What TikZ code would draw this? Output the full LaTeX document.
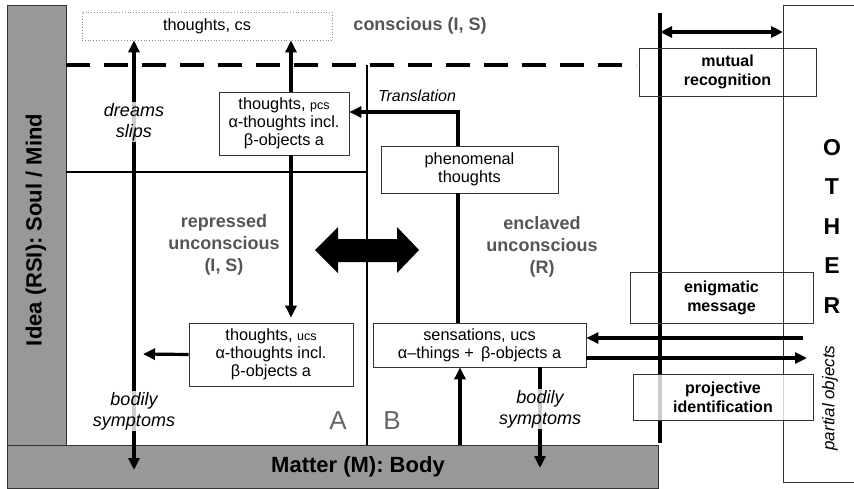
\documentclass[tikz,border=0pt]{standalone}
\usepackage{fontspec}
\setmainfont{Liberation Sans}
\usetikzlibrary{arrows.meta}
\definecolor{bargray}{RGB}{152,152,152}
\definecolor{labgray}{RGB}{85,85,85}
\tikzset{
  box/.style={draw=black!80, line width=0.8pt, fill=white, align=center, inner sep=0pt,
    font=\fontsize{16.3}{17.8}\selectfont},
  obox/.style={draw=black!80, line width=0.8pt, align=center, inner sep=0pt,
    font=\fontsize{16}{19}\selectfont\bfseries},
  arr/.style={line width=3.2pt, -{Triangle[length=12pt,width=11pt]}},
  darr/.style={line width=3.2pt, {Triangle[length=12pt,width=11pt]}-{Triangle[length=12pt,width=11pt]}},
  plain/.style={line width=3.2pt},
  thin/.style={line width=2.4pt},
  itlab/.style={font=\fontsize{18}{21}\selectfont\itshape, align=center, inner sep=1pt,
    fill=white, fill opacity=0.8, text opacity=1},
  glab/.style={font=\fontsize{18}{22}\selectfont\bfseries, text=labgray, align=center},
  bar/.style={draw=black!80, line width=0.8pt, fill=bargray, inner sep=0pt},
}
\begin{document}
\begin{tikzpicture}[x=1pt,y=-1pt]
\useasboundingbox (0,0) rectangle (854,488);
% OTHER frame
\draw[line width=0.8pt, black!80] (860,5) -- (783,5) -- (783,482) -- (860,482);
% bars
\node[bar, minimum width=59pt, minimum height=440pt] (mind) at (36.5,225) {};
\node[rotate=90, font=\fontsize{22}{24}\selectfont\bfseries] (mindlab) at (36,230) {Idea (RSI): Soul / Mind};
\node[bar, minimum width=651pt, minimum height=43pt, anchor=north west] (body) at (7,445) {};
\node[font=\fontsize{22}{24}\selectfont\bfseries] (bodylab) at (358,467) {Matter (M): Body};
% helper coordinates
\coordinate (xd) at (134,0);
\coordinate (xp) at (291,0);
\coordinate (xt) at (458,0);
\coordinate (xs) at (460,0);
\coordinate (xb) at (540,0);
\coordinate (ytr) at (0,112);
\coordinate (yin) at (0,338);
\coordinate (yout) at (0,358);
\coordinate (dashL) at (66,65);
\coordinate (dashR) at (636,65);
\coordinate (divT) at (367,65);
\coordinate (hL) at (66,172);
\coordinate (hR) at (367,172);
\coordinate (vT) at (660,13);
\coordinate (vB) at (660,443);
\coordinate (dbot) at (134,470);
\coordinate (lefttip) at (143,354);
\coordinate (bsymbot) at (540,468);
\coordinate (othin) at (803,338);
\coordinate (othout) at (807,358);
\coordinate (mrL) at (660,32);
\coordinate (mrR) at (783,32);
% structural lines
\draw[line width=4.8pt, dash pattern=on 24pt off 14pt] (dashL) -- (dashR);
\draw[thin] (divT) -- (divT |- body.north);
\draw[thin] (hL) -- (hR);
\draw[line width=3.5pt] (vT) -- (vB);
% big double arrow
\fill (315,250) -- (338,227) -- (338,239) -- (397,239) -- (397,227) -- (419,250)
  -- (397,273) -- (397,262) -- (338,262) -- (338,273) -- cycle;
% boxes
\node[box, draw=black!45, dotted, minimum width=250pt, minimum height=28pt] (tcs) at (207,26) {thoughts, cs};
\node[box, minimum width=130pt, minimum height=63pt] (tpcs) at (284,123.5)
  {thoughts, {\fontsize{12.5}{14}\selectfont pcs}\\ α-thoughts incl.\\ β-objects a};
\node[box, minimum width=164pt, minimum height=63pt] (tucs) at (271,354.5)
  {thoughts, {\fontsize{12.5}{14}\selectfont ucs}\\ α-thoughts incl.\\ β-objects a};
\node[box, minimum width=177pt, minimum height=47pt] (phen) at (469.5,169.5) {phenomenal\\ thoughts};
\node[box, minimum width=213pt, minimum height=44pt] (sens) at (479.5,345) {sensations, ucs\\ α–things + \,β-objects a};
% left arrow (dreams / bodily symptoms)
\draw[darr] (tcs.south -| xd) -- (dbot);
\node[itlab] (dreams) at (134,122) {dreams\\ slips};
\node[itlab] (bsym1) at (134,411) {bodily\\ symptoms};
% arrows
\draw[arr] (tpcs.north -| xp) -- (tcs.south -| xp);
\draw[arr, shorten >=5pt] (tpcs.south -| xp) -- (tucs.north -| xp);
\draw[arr] (phen.north -| xt) |- (tpcs.east |- ytr);
\node[font=\fontsize{16}{18}\selectfont\itshape] (transl) at (417,96) {Translation};
\draw[plain] (phen.south -| xt) -- (sens.north -| xt);
\draw[arr] (body.north -| xs) -- (sens.south -| xs);
\draw[arr] (sens.south -| xb) -- (bsymbot);
\node[itlab] (bsym2) at (540,409) {bodily\\ symptoms};
\draw[arr] (tucs.west) -- (lefttip);
\draw[arr, line width=3.8pt] (othin) -- (sens.east |- yin);
\draw[arr, line width=3.8pt] (sens.east |- yout) -- (othout);
\draw[darr] (mrL) -- (mrR);
% other boxes
\node[obox, minimum width=177pt, minimum height=48pt] (mutual) at (727.5,72) {mutual\\ recognition};
\node[obox, minimum width=183pt, minimum height=51pt] (enig) at (721.5,297.5) {enigmatic\\ message};
\node[obox, fill=white, fill opacity=0.8, text opacity=1, minimum width=180pt, minimum height=46pt] (proj) at (723,397) {projective\\ identification};
% labels
\node[glab] (consc) at (420,26) {conscious (I, S)};
\node[glab] (repr) at (224,245) {repressed\\ unconscious\\ (I, S)};
\node[glab] (encl) at (542,247) {enclaved\\ unconscious\\ (R)};
\node[font=\fontsize{26}{28}\selectfont, text=black!60] (labA) at (338,421) {A};
\node[font=\fontsize{26}{28}\selectfont, text=black!60] (labB) at (392,421) {B};
\node[font=\fontsize{23}{39.5}\selectfont\bfseries, align=center] (other) at (832,226) {O\\ T\\ H\\ E\\ R};
\node[rotate=90, font=\fontsize{17}{19}\selectfont\itshape] (partial) at (830,398) {partial objects};
\end{tikzpicture}
\end{document}
